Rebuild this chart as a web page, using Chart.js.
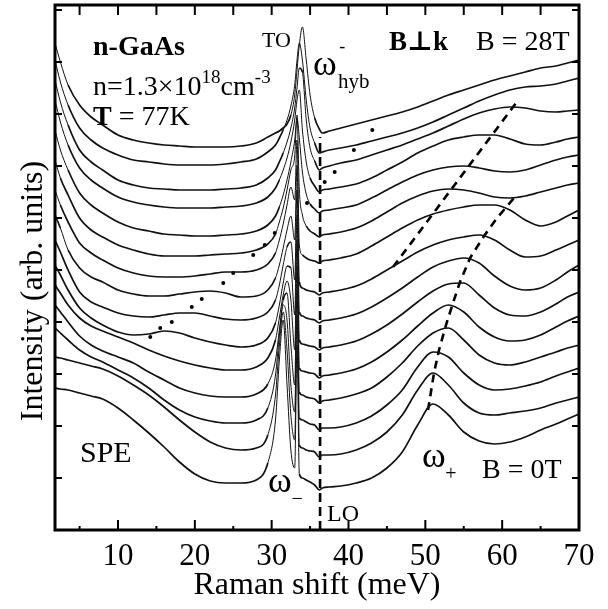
<!DOCTYPE html>
<html>
<head>
<meta charset="utf-8">
<style>
  html, body { margin: 0; padding: 0; background: #fff; }
  #wrap { width: 608px; height: 609px; }
</style>
<script src="https://cdn.jsdelivr.net/npm/chart.js@4.4.1/dist/chart.umd.min.js"></script>
</head>
<body>
<div id="wrap"><canvas id="raman" width="608" height="609"></canvas></div>
<script>
// Raman shift grid (meV), shared by all spectra
const shift = [1.8, 2.5, 3.5, 5, 6.5, 8, 10, 12, 14, 16, 18, 20, 22, 24, 26, 28, 29.5, 30.5, 31, 31.5,
  32, 32.5, 33, 33.3, 33.6, 34, 34.5, 35, 35.6, 36.2, 36.6, 37.5, 39, 41, 43, 45, 47, 49, 51, 53,
  55, 57, 59, 61, 63, 65, 67, 68.5, 70];

// stacked spectra, B = 0T (bottom) to B = 28T (top), offset included
const b00 = [142, 141, 140, 137, 134, 131, 122, 110, 97, 83, 68, 56, 49, 47, 47, 50, 67, 110, 170, 210,
  145, 80, 62, 185, 56, 52, 50, 48, 45, 40, 42, 43, 44, 47, 52, 62, 78, 105, 126, 115,
  98, 89, 86, 88, 93, 100, 106, 111, 116];
const b02 = [173, 172, 170, 167, 164, 161, 154, 145, 135, 123, 110, 98, 88, 82, 80, 82, 95, 135, 185, 218,
  180, 115, 90, 215, 85, 82, 80, 79, 78, 73, 75, 75, 76, 80, 87, 98, 115, 140, 157, 145,
  127, 117, 115, 117, 119, 122, 127, 130, 133];
const b04 = [202, 197, 190, 180, 173, 168, 160, 152, 142, 130, 120, 113, 109, 107, 107, 110, 122, 155, 195, 225,
  210, 145, 118, 240, 112, 110, 108, 106, 105, 100, 102, 102, 103, 107, 114, 125, 140, 163, 178, 173,
  157, 145, 140, 141, 144, 148, 154, 158, 162];
const b06 = [225, 218, 208, 194, 185, 179, 173, 167, 158, 150, 142, 137, 134, 133, 133, 136, 146, 170, 200, 230,
  237, 185, 145, 265, 138, 135, 133, 132, 131, 127, 129, 130, 132, 136, 142, 153, 167, 184, 197, 202,
  190, 175, 167, 165, 168, 173, 178, 182, 185];
const b08 = [245, 237, 225, 212, 204, 199, 193, 187, 180, 174, 169, 165, 162, 160, 160, 163, 172, 190, 212, 235,
  249, 230, 180, 290, 162, 159, 158, 157, 156, 152, 154, 155, 157, 161, 168, 178, 190, 204, 217, 225,
  218, 203, 193, 189, 190, 195, 203, 209, 214];
const b10 = [265, 255, 240, 222, 212, 205, 198, 195, 196, 199, 197, 192, 188, 185, 183, 185, 192, 207, 225, 247,
  264, 262, 215, 315, 190, 186, 185, 184, 183, 180, 182, 183, 185, 189, 196, 205, 216, 228, 239, 246,
  247, 235, 222, 215, 214, 218, 226, 233, 238];
const b12 = [290, 278, 260, 238, 228, 223, 217, 214, 213, 215, 217, 217, 214, 211, 210, 212, 218, 230, 245, 265,
  283, 288, 250, 340, 218, 214, 212, 211, 210, 207, 209, 210, 212, 216, 223, 232, 242, 253, 263, 269,
  272, 267, 254, 244, 240, 242, 250, 258, 265];
const b14 = [315, 302, 280, 262, 253, 248, 240, 236, 234, 234, 236, 238, 239, 237, 233, 234, 240, 252, 265, 282,
  300, 314, 290, 365, 248, 242, 240, 239, 238, 235, 237, 238, 240, 244, 251, 260, 269, 278, 285, 290,
  293, 295, 290, 280, 273, 274, 280, 285, 290];
const b16 = [340, 325, 308, 287, 277, 270, 262, 257, 254, 253, 253, 254, 256, 258, 258, 260, 266, 277, 290, 306,
  325, 343, 330, 390, 285, 275, 272, 270, 269, 267, 269, 270, 272, 276, 284, 293, 302, 310, 316, 320,
  323, 325, 325, 320, 310, 304, 308, 314, 320];
const b18 = [370, 352, 335, 312, 300, 293, 285, 280, 276, 274, 274, 274, 275, 276, 277, 280, 286, 296, 308, 322,
  340, 360, 374, 415, 340, 315, 304, 299, 296, 293, 295, 296, 298, 302, 309, 318, 327, 334, 339, 341,
  340, 337, 333, 332, 334, 338, 342, 345, 347];
const b20 = [400, 380, 360, 337, 325, 317, 308, 302, 299, 296, 295, 294, 294, 295, 296, 299, 305, 314, 323, 335,
  350, 368, 390, 412, 392, 358, 336, 326, 321, 317, 319, 320, 322, 325, 332, 340, 348, 355, 360, 363,
  364, 362, 359, 358, 360, 365, 370, 373, 375];
const b22 = [430, 408, 385, 362, 350, 342, 333, 328, 325, 323, 322, 322, 322, 323, 324, 327, 333, 342, 350, 360,
  372, 388, 410, 430, 440, 400, 368, 352, 344, 338, 340, 341, 343, 346, 352, 360, 368, 377, 384, 390,
  393, 395, 395, 391, 386, 385, 388, 391, 393];
const b24 = [450, 428, 405, 380, 368, 360, 350, 345, 342, 341, 340, 340, 340, 341, 342, 345, 352, 360, 368, 377,
  388, 402, 422, 442, 462, 458, 410, 382, 369, 360, 362, 364, 367, 370, 375, 380, 385, 391, 397, 404,
  411, 417, 421, 423, 422, 419, 418, 419, 420];
const b26 = [470, 448, 425, 402, 390, 382, 375, 370, 368, 366, 365, 365, 365, 366, 368, 371, 378, 385, 392, 400,
  410, 424, 445, 470, 487, 470, 430, 402, 387, 377, 378, 380, 382, 385, 389, 393, 397, 402, 408, 415,
  422, 429, 435, 440, 443, 444, 446, 449, 452];
const b28 = [487, 468, 445, 425, 413, 405, 395, 390, 387, 385, 384, 383, 383, 383, 384, 387, 393, 397, 399, 402,
  406, 415, 435, 460, 485, 503, 470, 435, 412, 401, 397, 399, 402, 406, 410, 414, 418, 423, 429, 435,
  440, 445, 450, 454, 458, 462, 464, 467, 470];

// LO phonon energy (meV) and the top of its marker line
const loEnergy = 36.3;
const loTop = 393;

// omega_hyb- peak positions (dotted)
const hybDots = [
  {x: 14.2, y: 193}, {x: 15.5, y: 202}, {x: 17.0, y: 208}, {x: 19.6, y: 223}, {x: 20.9, y: 231},
  {x: 23.7, y: 247}, {x: 25.0, y: 257}, {x: 27.6, y: 275}, {x: 29.1, y: 285}, {x: 30.4, y: 297},
  {x: 34.6, y: 327}, {x: 36.9, y: 348}, {x: 38.2, y: 358}, {x: 40.7, y: 380}, {x: 43.1, y: 400}
];
// omega+ peak positions (dashed)
const plusBranch = [
  {x: 50.35, y: 120}, {x: 51.13, y: 157}, {x: 51.78, y: 180}, {x: 52.69, y: 205}, {x: 53.6, y: 227},
  {x: 54.51, y: 248}, {x: 55.82, y: 272}, {x: 57.64, y: 294}, {x: 59.33, y: 312}, {x: 61.54, y: 332}
];
const upperBranch = [{x: 45.8, y: 263}, {x: 62.1, y: 430}];

const xTickValues = [10, 20, 30, 40, 50, 60, 70];
const xMinorTicks = [5, 15, 25, 35, 45, 55, 65];
const yTickStep = 52;

const SERIF = '"Liberation Serif", "DejaVu Serif", serif';

const spectra = [b00, b02, b04, b06, b08, b10, b12, b14, b16, b18, b20, b22, b24, b26, b28];

// steep flanks come out thinner than the flat, noisy parts
const segWidth = ctx => {
  const dx = Math.abs(ctx.p1.x - ctx.p0.x), dy = Math.abs(ctx.p1.y - ctx.p0.y);
  return dy > 2.5 * dx ? 1.0 : 1.7;
};

const datasets = spectra.map(arr => ({
  data: shift.map((x, i) => ({x, y: arr[i]})),
  showLine: true,
  borderColor: '#111',
  borderWidth: 1.7,
  segment: {borderWidth: segWidth},
  pointRadius: 0,
  cubicInterpolationMode: 'monotone',
  fill: false
}));

datasets.push({
  data: [{x: loEnergy, y: 0}, {x: loEnergy, y: loTop}],
  showLine: true, borderColor: '#000', borderWidth: 2.6, borderDash: [9, 5], pointRadius: 0
});
datasets.push({
  data: plusBranch,
  showLine: true, borderColor: '#000', borderWidth: 2.6, borderDash: [8, 6], pointRadius: 0
});
datasets.push({
  data: upperBranch,
  showLine: true, borderColor: '#000', borderWidth: 2.6, borderDash: [8, 6], pointRadius: 0
});
datasets.push({
  data: hybDots,
  showLine: false, pointRadius: 2, pointBackgroundColor: '#000', pointBorderWidth: 0
});

// text placed in data coordinates; runs allow bold parts and super/subscripts
const notes = [
  {x: 6.75, y: 475, runs: [{t: 'n-GaAs', size: 28, bold: true}]},
  {x: 6.75, y: 435, runs: [{t: 'n=1.3×10', size: 28}, {t: '18', size: 19, rise: 12},
    {t: 'cm', size: 28}, {t: '-3', size: 19, rise: 12}]},
  {x: 6.75, y: 405, runs: [{t: 'T', size: 28, bold: true}, {t: ' = 77K', size: 28}]},
  {x: 28.74, y: 483, runs: [{t: 'TO', size: 22}]},
  {x: 35.38, y: 455, runs: [{t: 'ω', size: 36}]},
  {x: 38.8, y: 478, runs: [{t: '-', size: 18}]},
  {x: 38.63, y: 442, runs: [{t: 'hyb', size: 21}]},
  {x: 45.27, y: 480, runs: [{t: 'B⊥k', size: 27, bold: true}]},
  {x: 56.6, y: 480, runs: [{t: 'B = 28T', size: 28}]},
  {x: 5.05, y: 68, runs: [{t: 'SPE', size: 30}]},
  {x: 29.52, y: 38, runs: [{t: 'ω', size: 36}]},
  {x: 33.3, y: 25, align: 'center', runs: [{t: '−', size: 20}]},
  {x: 37.2, y: 9, runs: [{t: 'LO', size: 24}]},
  {x: 49.57, y: 63, runs: [{t: 'ω', size: 36}]},
  {x: 53.34, y: 50, align: 'center', runs: [{t: '+', size: 20}]},
  {x: 57.38, y: 52, runs: [{t: 'B = 0T', size: 28}]}
];

const framePlugin = {
  id: 'frame',
  afterDatasetsDraw(chart) {
    const {ctx, chartArea: a, scales: {x, y}} = chart;
    const seg = (x1, y1, x2, y2) => { ctx.beginPath(); ctx.moveTo(x1, y1); ctx.lineTo(x2, y2); ctx.stroke(); };
    ctx.save();
    ctx.strokeStyle = '#000';
    ctx.lineWidth = 2;
    xTickValues.concat(xMinorTicks).forEach(v => {
      if (v <= x.min || v >= x.max) return;
      const px = x.getPixelForValue(v);
      const major = xTickValues.includes(v);
      seg(px, a.bottom, px, a.bottom - (major ? 10 : 4));
      seg(px, a.top, px, a.top + 10);
    });
    for (let v = yTickStep; v < y.max; v += yTickStep) {
      const py = y.getPixelForValue(v);
      seg(a.left, py, a.left + 7, py);
      seg(a.right, py, a.right - 7, py);
    }
    ctx.lineWidth = 3;
    ctx.strokeRect(a.left, a.top, a.right - a.left, a.bottom - a.top);
    ctx.restore();
  },
  afterDraw(chart) {
    const {ctx, chartArea: a, scales: {x, y}} = chart;
    ctx.save();
    ctx.fillStyle = '#000';
    ctx.textBaseline = 'alphabetic';
    notes.forEach(n => {
      let px = x.getPixelForValue(n.x);
      const py = y.getPixelForValue(n.y);
      ctx.textAlign = n.align || 'left';
      n.runs.forEach(r => {
        ctx.font = (r.bold ? 'bold ' : '') + r.size + 'px ' + SERIF;
        ctx.fillText(r.t, px, py - (r.rise || 0));
        px += ctx.measureText(r.t).width;
      });
    });
    // vertical axis title, sitting a little below the middle of the axis
    ctx.translate(a.left - 13, y.getPixelForValue(239));
    ctx.rotate(-Math.PI / 2);
    ctx.textAlign = 'center';
    ctx.font = '32px ' + SERIF;
    ctx.fillText('Intensity (arb. units)', 0, 0);
    ctx.restore();
  }
};

new Chart(document.getElementById('raman'), {
  type: 'scatter',
  data: {datasets},
  options: {
    responsive: false,
    animation: false,
    devicePixelRatio: 1,
    layout: {padding: {top: 5, right: 29, left: 0, bottom: 0}},
    plugins: {legend: {display: false}, tooltip: {enabled: false}},
    scales: {
      x: {
        type: 'linear', min: 1.8, max: 70,
        grid: {display: false, drawTicks: false},
        border: {display: false},
        afterBuildTicks: s => { s.ticks = xTickValues.map(v => ({value: v})); },
        afterFit: s => { s.height = 79; },
        ticks: {color: '#000', padding: 8, maxRotation: 0, font: {family: SERIF, size: 31}},
        title: {display: true, text: 'Raman shift (meV)', color: '#000',
          padding: {bottom: 4}, font: {family: SERIF, size: 32}}
      },
      y: {
        type: 'linear', min: 0, max: 525,
        grid: {display: false, drawTicks: false},
        border: {display: false},
        ticks: {display: false},
        afterFit: s => { s.width = 55; }
      }
    }
  },
  plugins: [framePlugin]
});
</script>
</body>
</html>
